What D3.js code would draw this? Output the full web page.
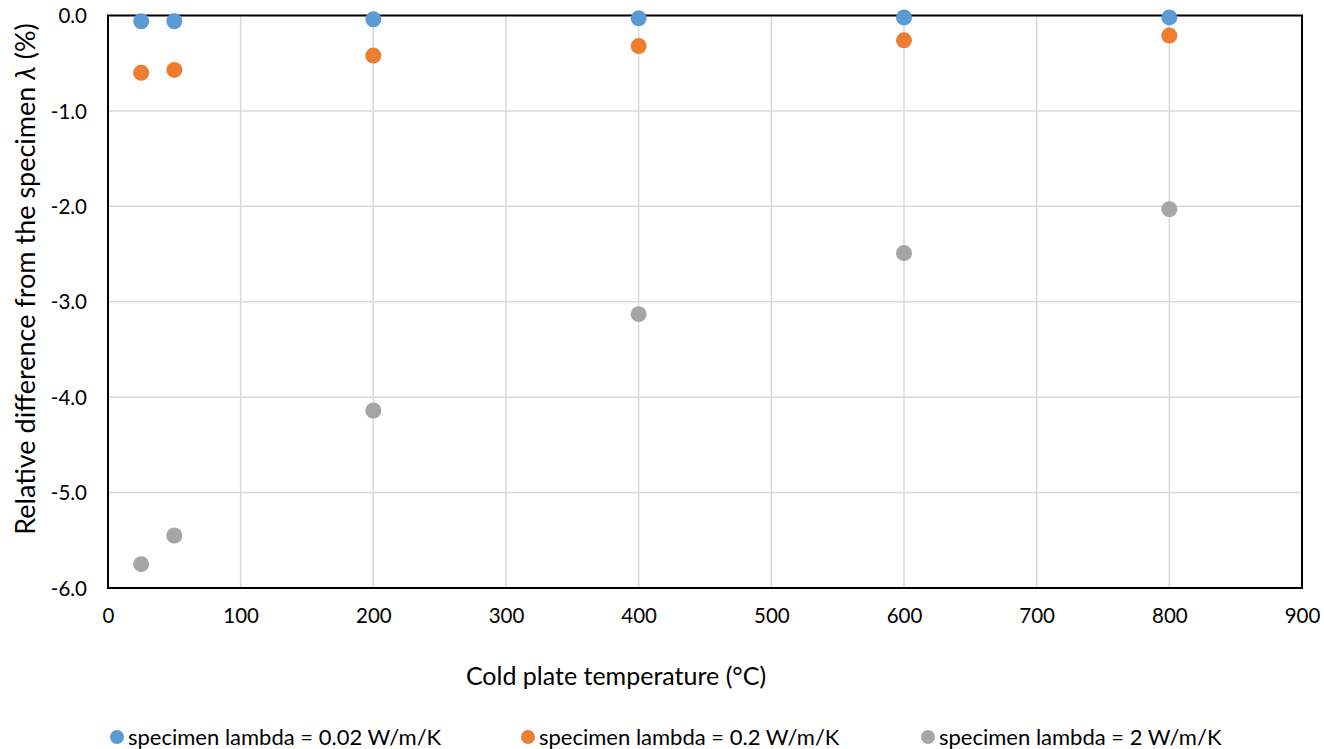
<!DOCTYPE html>
<html>
<head>
<meta charset="utf-8">
<script src="https://cdn.jsdelivr.net/npm/d3@7"></script>
<style>
  body { margin: 0; background: #fff; }
  svg text { font-family: Lato, "Open Sans", sans-serif; fill: #000; }
</style>
</head>
<body>
<script>
// chart data
var temps = [25, 50, 200, 400, 600, 800];
var lambda002 = [-0.06, -0.06, -0.04, -0.03, -0.02, -0.02];
var lambda02 = [-0.60, -0.57, -0.42, -0.32, -0.26, -0.21];
var lambda2 = [-5.75, -5.45, -4.14, -3.13, -2.49, -2.03];
var seriesNames = ["specimen lambda = 0.02 W/m/K", "specimen lambda = 0.2 W/m/K", "specimen lambda = 2 W/m/K"];
var seriesColors = ["#5B9BD5", "#ED7D31", "#A5A5A5"];
var xTicks = [0, 100, 200, 300, 400, 500, 600, 700, 800, 900];
var yTicks = [0, -1, -2, -3, -4, -5, -6];

var width = 1324, height = 749;
var plot = { left: 108, top: 15.5, right: 1302, bottom: 588 };

var svg = d3.select("body").append("svg")
    .attr("width", width)
    .attr("height", height);

var x = d3.scaleLinear().domain([0, 900]).range([plot.left, plot.right]);
var y = d3.scaleLinear().domain([-6, 0]).range([plot.bottom, plot.top]);

// gridlines
svg.append("g").selectAll("line.v")
    .data(xTicks.slice(1, -1))
  .enter().append("line")
    .attr("x1", function(d) { return x(d); })
    .attr("x2", function(d) { return x(d); })
    .attr("y1", plot.top).attr("y2", plot.bottom)
    .attr("stroke", "#d9d9d9").attr("stroke-width", 1.5);

svg.append("g").selectAll("line.h")
    .data(yTicks.slice(1, -1))
  .enter().append("line")
    .attr("y1", function(d) { return y(d); })
    .attr("y2", function(d) { return y(d); })
    .attr("x1", plot.left).attr("x2", plot.right)
    .attr("stroke", "#d9d9d9").attr("stroke-width", 1.5);

// plot frame
svg.append("rect")
    .attr("x", plot.left).attr("y", plot.top)
    .attr("width", plot.right - plot.left)
    .attr("height", plot.bottom - plot.top)
    .attr("fill", "none").attr("stroke", "#000").attr("stroke-width", 2);

// axes (labels only)
var xAxis = svg.append("g")
    .attr("transform", "translate(0," + (plot.bottom + 20) + ")")
    .call(d3.axisBottom(x).tickValues(xTicks).tickSize(0).tickPadding(0));
var yAxis = svg.append("g")
    .attr("transform", "translate(" + (plot.left - 21) + ",0)")
    .call(d3.axisLeft(y).tickValues(yTicks).tickSize(0).tickPadding(0)
      .tickFormat(function(d) { return d.toFixed(1); }));
[xAxis, yAxis].forEach(function(a) {
  a.select(".domain").remove();
  a.selectAll("text").attr("font-size", 20.5).attr("font-family", "Lato, 'Open Sans', sans-serif").attr("fill", "#000");
});
xAxis.selectAll("text").attr("dy", "0.71em");
yAxis.selectAll("text").attr("dy", "0.35em");

// points
var series = [lambda002, lambda02, lambda2];
series.forEach(function(vals, i) {
  svg.append("g").selectAll("circle")
      .data(vals)
    .enter().append("circle")
      .attr("cx", function(d, j) { return x(temps[j]); })
      .attr("cy", function(d) { return y(d); })
      .attr("r", 8)
      .attr("fill", seriesColors[i]);
});

// axis titles
svg.append("text")
    .attr("x", 616).attr("y", 676).attr("dy", "0.35em")
    .attr("text-anchor", "middle").attr("font-size", 25)
    .text("Cold plate temperature (°C)");

var yt = svg.append("text")
    .attr("transform", "translate(26,279) rotate(-90)")
    .attr("dy", "0.35em")
    .attr("text-anchor", "middle").attr("font-size", 27);
yt.append("tspan").text("Relative difference from the specimen ");
yt.append("tspan").attr("font-style", "italic").text("λ");
yt.append("tspan").text(" (%)");

// legend
var legendX = [117, 528, 928];
var legend = svg.append("g").selectAll("g")
    .data(seriesNames)
  .enter().append("g")
    .attr("transform", function(d, i) { return "translate(" + legendX[i] + ",737)"; });
legend.append("circle").attr("r", 7).attr("fill", function(d, i) { return seriesColors[i]; });
legend.append("text").attr("x", 11).attr("dy", "0.35em").attr("font-size", 22)
    .text(function(d) { return d; });
</script>
</body>
</html>
